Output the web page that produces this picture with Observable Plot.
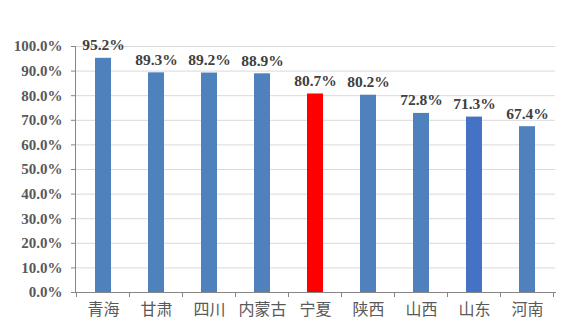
<!DOCTYPE html>
<html>
<head>
<meta charset="utf-8">
<script src="https://cdn.jsdelivr.net/npm/d3@7"></script>
<script src="https://cdn.jsdelivr.net/npm/@observablehq/plot@0.6"></script>
<style>
  html, body { margin: 0; padding: 0; background: #fff; }
</style>
</head>
<body>
<div id="chart"></div>
<script>
const categories = ["青海", "甘肃", "四川", "内蒙古", "宁夏", "陕西", "山西", "山东", "河南"];
const values = [95.2, 89.3, 89.2, 88.9, 80.7, 80.2, 72.8, 71.3, 67.4];
const colors = ["#4F81BD", "#4F81BD", "#4F81BD", "#4F81BD", "#FF0000", "#4F81BD", "#4F81BD", "#4472C4", "#4F81BD"];
const yTicks = [0, 10, 20, 30, 40, 50, 60, 70, 80, 90, 100];

const data = categories.map((c, i) => ({cat: c, value: values[i], color: colors[i]}));

const plot = Plot.plot({
  width: 566,
  height: 332,
  marginLeft: 75,
  marginRight: 11,
  marginTop: 46,
  marginBottom: 40,
  style: {background: "#fff"},
  x: {domain: categories, paddingInner: 0.7, paddingOuter: 0.35, label: null},
  y: {domain: [0, 100], label: null},
  marks: [
    Plot.gridY(yTicks.slice(1), {stroke: "#d9d9d9", strokeOpacity: 1, strokeWidth: 1}),
    Plot.barY(data, {x: "cat", y: "value", fill: "color"}),
    Plot.frame({anchor: "left", stroke: "#868686"}),
    Plot.frame({anchor: "bottom", stroke: "#868686"}),
    Plot.axisY(yTicks, {
      tickSize: 4, tickPadding: 9, stroke: "#868686",
      tickFormat: d => d.toFixed(1) + "%",
      fontSize: 15, fill: "#595959", label: null
    }),
    Plot.axisX({
      tickSize: 0, tickPadding: 11,
      fontSize: 16, fill: "#595959", label: null
    }),
    Plot.text(data, {
      x: "cat", y: "value", text: d => d.value.toFixed(1) + "%",
      lineAnchor: "bottom", dy: -8,
      fontSize: 15.5, fill: "#404040"
    })
  ]
});

const svg = d3.select(plot);
svg.selectAll('g[aria-label="y-axis tick label"]')
  .style("font-family", "'Liberation Serif', serif").style("font-weight", "bold");
svg.selectAll('g[aria-label="text"]')
  .style("font-family", "'Liberation Serif', serif").style("font-weight", "bold");
svg.selectAll('g[aria-label="x-axis tick label"]')
  .style("font-family", "'Noto Sans CJK SC', sans-serif");

// tick marks between categories on the x axis, placed from the band scale
const xs = plot.scale("x");
const ys = plot.scale("y");
const xf = xs.apply;
const step = xs.step;
const bw = xs.bandwidth;
const gap = (step - bw) / 2;
const y0 = ys.apply(0);
const bounds = categories.map(c => xf(c) - gap);
bounds.push(xf(categories[categories.length - 1]) + bw + gap);
const g = svg.append("g").attr("aria-label", "x-axis category ticks");
for (const px of bounds) {
  g.append("line")
    .attr("x1", px).attr("x2", px)
    .attr("y1", y0).attr("y2", y0 + 5)
    .attr("stroke", "#868686").attr("stroke-width", 1);
}

document.getElementById("chart").appendChild(plot);
</script>
</body>
</html>
